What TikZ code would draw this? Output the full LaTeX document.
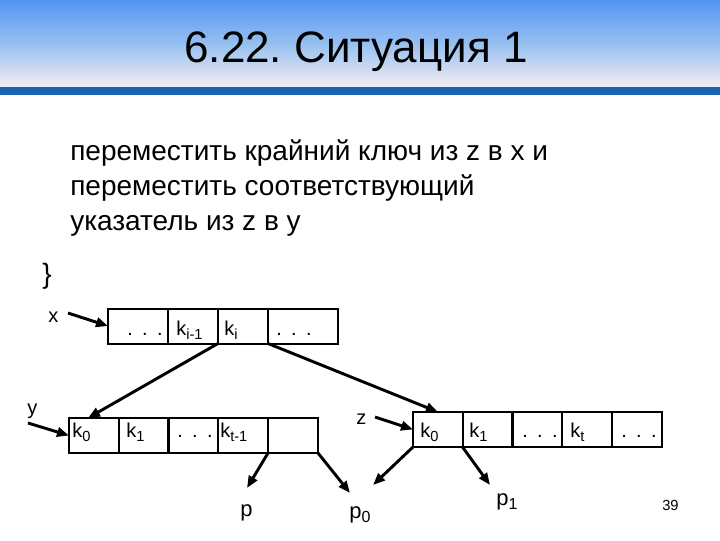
\documentclass[tikz,border=0pt]{standalone}
\usepackage{fontspec}
\setmainfont{Liberation Sans}
\usetikzlibrary{arrows.meta}
\frenchspacing
\definecolor{bartop}{RGB}{84,148,245}
\definecolor{barmid}{RGB}{150,192,240}
\definecolor{barbot}{RGB}{245,237,243}
\definecolor{bandblue}{RGB}{26,98,180}
\newcommand\kk[1]{k\raisebox{-3.5pt}{\fontsize{11}{11}\selectfont #1}}
\newcommand\ddd{.\hspace{7pt}.\hspace{7pt}.}
\begin{document}
\begin{tikzpicture}[x=0.75pt,y=-0.75pt,
  cellbox/.style={draw, line width=1.5pt, minimum height=26.25pt, inner sep=0pt, outer sep=0pt},
  w50/.style={minimum width=37.5pt},
  w60/.style={minimum width=45pt},
  w70/.style={minimum width=52.5pt},
  celltext/.style={font=\fontsize{15}{18}\selectfont, inner sep=0pt, anchor=base west},
  lbl/.style={font=\fontsize{15}{18}\selectfont, inner sep=0pt, anchor=base west},
  plbl/.style={font=\fontsize{16.5}{20}\selectfont, inner sep=0pt, anchor=base west},
  body/.style={font=\fontsize{21}{26}\selectfont, inner sep=0pt, anchor=base west},
  ptr/.style={line width=2.2pt, -{Triangle[length=9pt,width=7pt]}},
  edge/.style={line width=2.2pt, -{Triangle[length=9pt,width=7pt]}}]
\path[use as bounding box] (0,0) rectangle (720,540);
% title bar
\shade[top color=bartop, bottom color=barbot, middle color=barmid] (0,0) rectangle (720,87);
\fill[bandblue] (0,87) rectangle (720,95);
\node[font=\fontsize{33}{36}\selectfont, inner sep=0pt, anchor=base] (title) at (356,62) {6.22. Ситуация 1};
% body text
\node[body] (l1) at (70,160) {переместить крайний ключ из z в x и};
\node[body] (l2) at (70,195) {переместить соответствующий};
\node[body] (l3) at (70,230) {указатель из z в y};
\node[body] (brace) at (42,283) {\}};
% node x
\node[cellbox,w60] (xa) at (138,326) {};
\node[cellbox,w50] (xb) at (193,326) {};
\node[cellbox,w50] (xc) at (243,326) {};
\node[cellbox,w70] (xd) at (303,326) {};
\node[celltext] (txa) at (127,335) {\ddd};
\node[celltext] (txb) at (176,335) {\kk{i-1}};
\node[celltext] (txc) at (224,335) {\kk{i}};
\node[celltext] (txd) at (276,335) {\ddd};
% node y
\node[cellbox,w50] (ya) at (94,435.5) {};
\node[cellbox,w50] (yb) at (143.5,435.5) {};
\node[cellbox,w50] (yc) at (193,435.5) {};
\node[cellbox,w50] (yd) at (243,435.5) {};
\node[cellbox,w50] (ye) at (293,435.5) {};
\node[celltext] (tya) at (72,437) {\kk{0}};
\node[celltext] (tyb) at (126,437) {\kk{1}};
\node[celltext] (tyc) at (177,437) {\ddd};
\node[celltext] (tyd) at (220,437) {\kk{t-1}};
% node z
\node[cellbox,w50] (za) at (438,429.5) {};
\node[cellbox,w50] (zb) at (487.5,429.5) {};
\node[cellbox,w50] (zc) at (537,429.5) {};
\node[cellbox,w50] (zd) at (587,429.5) {};
\node[cellbox,w50] (ze) at (637,429.5) {};
\node[celltext] (tza) at (420,437) {\kk{0}};
\node[celltext] (tzb) at (469,437) {\kk{1}};
\node[celltext] (tzc) at (522,437) {\ddd};
\node[celltext] (tzd) at (570,437) {\kk{t}};
\node[celltext] (tze) at (621,437) {\ddd};
% pointer labels
\node[lbl] (lx) at (48,322) {x};
\node[lbl] (ly) at (27,414) {y};
\node[lbl] (lz) at (356,424) {z};
\coordinate (sx) at (68,313);
\coordinate (sy) at (28,423);
\coordinate (sz) at (375,417);
\draw[ptr] (sx) -- (xa.west);
\draw[ptr] (sy) -- (ya.west);
\draw[ptr] (sz) -- (za.west);
% tree edges
\draw[edge] (xc.south west) -- ([shift={(-6,0)}]ya.north);
\draw[edge] (xd.south west) -- (za.north);
% bottom pointers
\coordinate (ep) at (247,488);
\coordinate (ep0a) at (350,493);
\coordinate (ep0b) at (373,485);
\coordinate (ep1) at (490,485);
\draw[edge] (yd.south east) -- (ep);
\draw[edge] (ye.south east) -- (ep0a);
\draw[edge] (za.south west) -- (ep0b);
\draw[edge] (zb.south west) -- (ep1);
\node[plbl] (p) at (240,516) {p};
\node[plbl] (p0) at (349,518) {p\raisebox{-3.5pt}{\fontsize{12}{12}\selectfont 0}};
\node[plbl] (p1) at (496,505) {p\raisebox{-3.5pt}{\fontsize{12}{12}\selectfont 1}};
\node[font=\fontsize{11}{13}\selectfont, inner sep=0pt, anchor=base west] (pg) at (662,510) {39};
\end{tikzpicture}
\end{document}
